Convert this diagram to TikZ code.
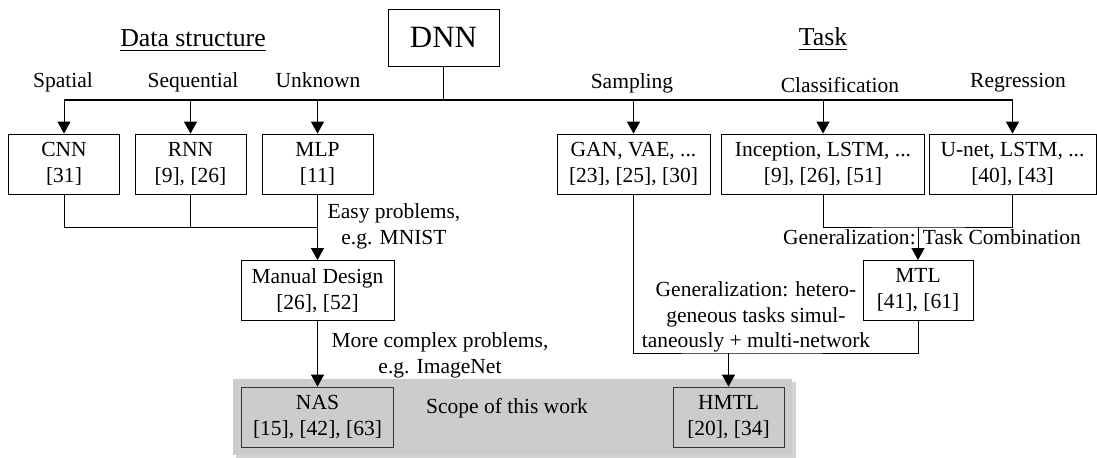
\documentclass[tikz,border=0pt]{standalone}
\usepackage{fontspec}
\setmainfont{Liberation Serif}
\usetikzlibrary{arrows.meta,fit,shadows,backgrounds}

\tikzset{
	box/.style={draw, align=center, minimum width=51.6pt, minimum height=27.9pt, inner sep=2pt},
	arr/.style={-{Triangle[length=5.5pt,width=6pt]}},
	lbl/.style={anchor=base},
}

\begin{document}
\begin{tikzpicture}[x=0.465pt,y=-0.465pt,font=\fontsize{10}{12}\selectfont]
	\useasboundingbox (0,0) rectangle (1097,458);
	% headings
	\node[lbl,font=\large] (hdata) at (193,47) {\underline{Data structure}};
	\node[lbl,font=\large] (htask) at (823,46) {\underline{Task}};
	\node[box,font=\Large,minimum height=26.5pt] (dnn) at (443.5,37.5) {DNN};
	% branch labels
	\node[lbl] (lspat) at (63,88) {Spatial};
	\node[lbl] (lseq) at (193,88) {Sequential};
	\node[lbl] (lunk) at (318,88) {Unknown};
	\node[lbl] (lsamp) at (632,89) {Sampling};
	\node[lbl] (lclass) at (840,93) {Classification};
	\node[lbl] (lreg) at (1018,88) {Regression};
	% first row
	\node[box] (cnn) at (64,164) {CNN\\{[31]}};
	\node[box] (rnn) at (190.5,164) {RNN\\{[9], [26]}};
	\node[box] (mlp) at (317.5,164) {MLP\\{[11]}};
	\node[box,minimum width=71.1pt] (gan) at (633.5,164) {GAN, VAE, ...\\{[23], [25], [30]}};
	\node[box,minimum width=94pt] (incep) at (823,164) {Inception, LSTM, ...\\{[9], [26], [51]}};
	\node[box,minimum width=77.7pt] (unet) at (1012.5,164) {U-net, LSTM, ...\\{[40], [43]}};
	% second row
	\node[box,minimum width=71.1pt] (manual) at (317.5,290.5) {Manual Design\\{[26], [52]}};
	\node[box,minimum width=51.2pt] (mtl) at (918,290.5) {MTL\\{[41], [61]}};
	% scope of this work
	\node[box,draw=black!80,minimum width=70.7pt] (nas) at (317.5,417) {NAS\\{[15], [42], [63]}};
	\node[box,draw=black!80] (hmtl) at (728.5,417) {HMTL\\{[20], [34]}};
	\begin{scope}[on background layer]
		\node[fit=(nas)(hmtl), inner sep=3.7pt, fill=black!20,
			drop shadow={shadow xshift=1.5pt, shadow yshift=-1.5pt, opacity=0.35}] (scope) {};
	\end{scope}
	\node (lscope) at (507,408) {Scope of this work};
	% edge labels
	\node[align=center] (leasy) at (394,226) {Easy problems,\\e.g. MNIST};
	\node[align=center] (lcomplex) at (440,355) {More complex problems,\\e.g. ImageNet};
	\node (lcomb) at (932,237) {Generalization: Task Combination};
	\node[align=center] (lhet) at (756,317) {Generalization: hetero-\\geneous tasks simul-\\taneously + multi-network};
	% connectors
	\coordinate (bus) at (443.5,100);
	\draw[semithick] (dnn) -- (bus);
	\draw[semithick] (cnn |- bus) -- (unet |- bus);
	\foreach \n in {cnn,rnn,mlp,gan,incep,unet}
		\draw[arr] (\n |- bus) -- (\n);
	\coordinate (jleft) at (317.5,227);
	\draw (cnn) |- (jleft);
	\draw (rnn) -- (rnn |- jleft);
	\draw[arr] (mlp) -- (manual);
	\draw[arr] (manual) -- (nas);
	\coordinate (jright) at (918,227);
	\draw (incep) |- (jright) -| (unet);
	\draw[arr] (jright) -- (mtl);
	\coordinate (jlow) at (728.5,353);
	\draw (gan) |- (jlow) -| (mtl);
	\draw[arr] (jlow) -- (hmtl);
\end{tikzpicture}
\end{document}
